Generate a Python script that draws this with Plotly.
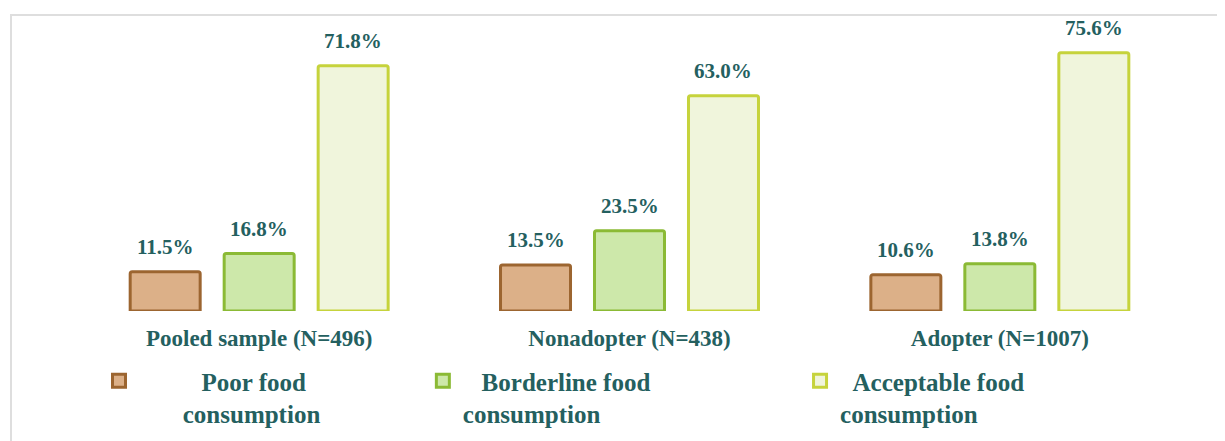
import plotly.graph_objects as go

groups = ["Pooled sample (N=496)", "Nonadopter (N=438)", "Adopter (N=1007)"]
series_names = ["Poor food consumption", "Borderline food consumption", "Acceptable food consumption"]
poor = [11.5, 13.5, 10.6]
borderline = [16.8, 23.5, 13.8]
acceptable = [71.8, 63.0, 75.6]

NB = "\u00a0"
legend_labels = [
    NB * 10 + "Poor food<br>" + NB * 7 + "consumption",
    NB * 3 + "Borderline food<br>consumption",
    NB * 2 + "Acceptable food<br>consumption",
]

TEXT = "#24605f"
FONT = "Liberation Serif"
fills = ["#dcb088", "#cde8aa", "#f0f5dc"]
lines = ["#9c6530", "#8bba35", "#c6d33c"]
offsets = [-0.2538, 0.0, 0.2538]
legend_ids = ["legend", "legend2", "legend3"]

fig = go.Figure()
annotations = []
for k, vals in enumerate([poor, borderline, acceptable]):
    xs = [i + offsets[k] for i in range(len(groups))]
    fig.add_trace(go.Bar(
        x=xs, y=vals, width=0.189, name=series_names[k], showlegend=False,
        marker=dict(color=fills[k], line=dict(color=lines[k], width=3), cornerradius=2),
        hovertemplate=series_names[k] + ": %{y:.1f}%<extra></extra>",
    ))
    # legend entry (legend-only marker, same styling as the bars)
    fig.add_trace(go.Scatter(
        x=[None], y=[None], mode="markers", name=legend_labels[k],
        legend=legend_ids[k], hoverinfo="skip",
        marker=dict(symbol="square", size=13, color=fills[k], line=dict(color=lines[k], width=3)),
    ))
    for x, v in zip(xs, vals):
        annotations.append(dict(
            x=x, y=v, xref="x", yref="y", text=f"{v:.1f}%", showarrow=False,
            yanchor="middle", yshift=25,
            font=dict(family=FONT, size=21, color=TEXT, weight="bold"),
        ))

legend_common = dict(
    orientation="v", yanchor="top", xanchor="left", valign="top",
    bgcolor="rgba(0,0,0,0)", borderwidth=0, itemwidth=30,
    font=dict(family=FONT, size=25, color=TEXT, weight="bold"),
)

LEG_Y = -0.161
fig.update_layout(
    width=1225, height=441,
    margin=dict(l=66, r=48, t=11, b=138, autoexpand=False),
    paper_bgcolor="white", plot_bgcolor="white",
    barmode="overlay",
    showlegend=True,
    legend=dict(x=0.0225, y=LEG_Y, **legend_common),
    legend2=dict(x=0.314, y=LEG_Y, **legend_common),
    legend3=dict(x=0.6535, y=LEG_Y, **legend_common),
    xaxis=dict(
        range=[-0.5, 2.5], tickmode="array", tickvals=list(range(len(groups))), ticktext=groups,
        showgrid=False, zeroline=False, showline=False, ticks="",
        ticklabelstandoff=11,
        tickfont=dict(family=FONT, size=23, color=TEXT, weight="bold"),
    ),
    yaxis=dict(range=[0, 85.5], visible=False, showgrid=False, zeroline=False),
    annotations=annotations,
    shapes=[dict(
        type="rect", xref="paper", yref="paper",
        x0=(11 - 74) / 1111, x1=1.1, y0=-0.6, y1=(311 - 15) / 292,
        line=dict(color="#dedede", width=2), fillcolor="rgba(0,0,0,0)", layer="below",
    )],
)

fig.write_html("out.html")
